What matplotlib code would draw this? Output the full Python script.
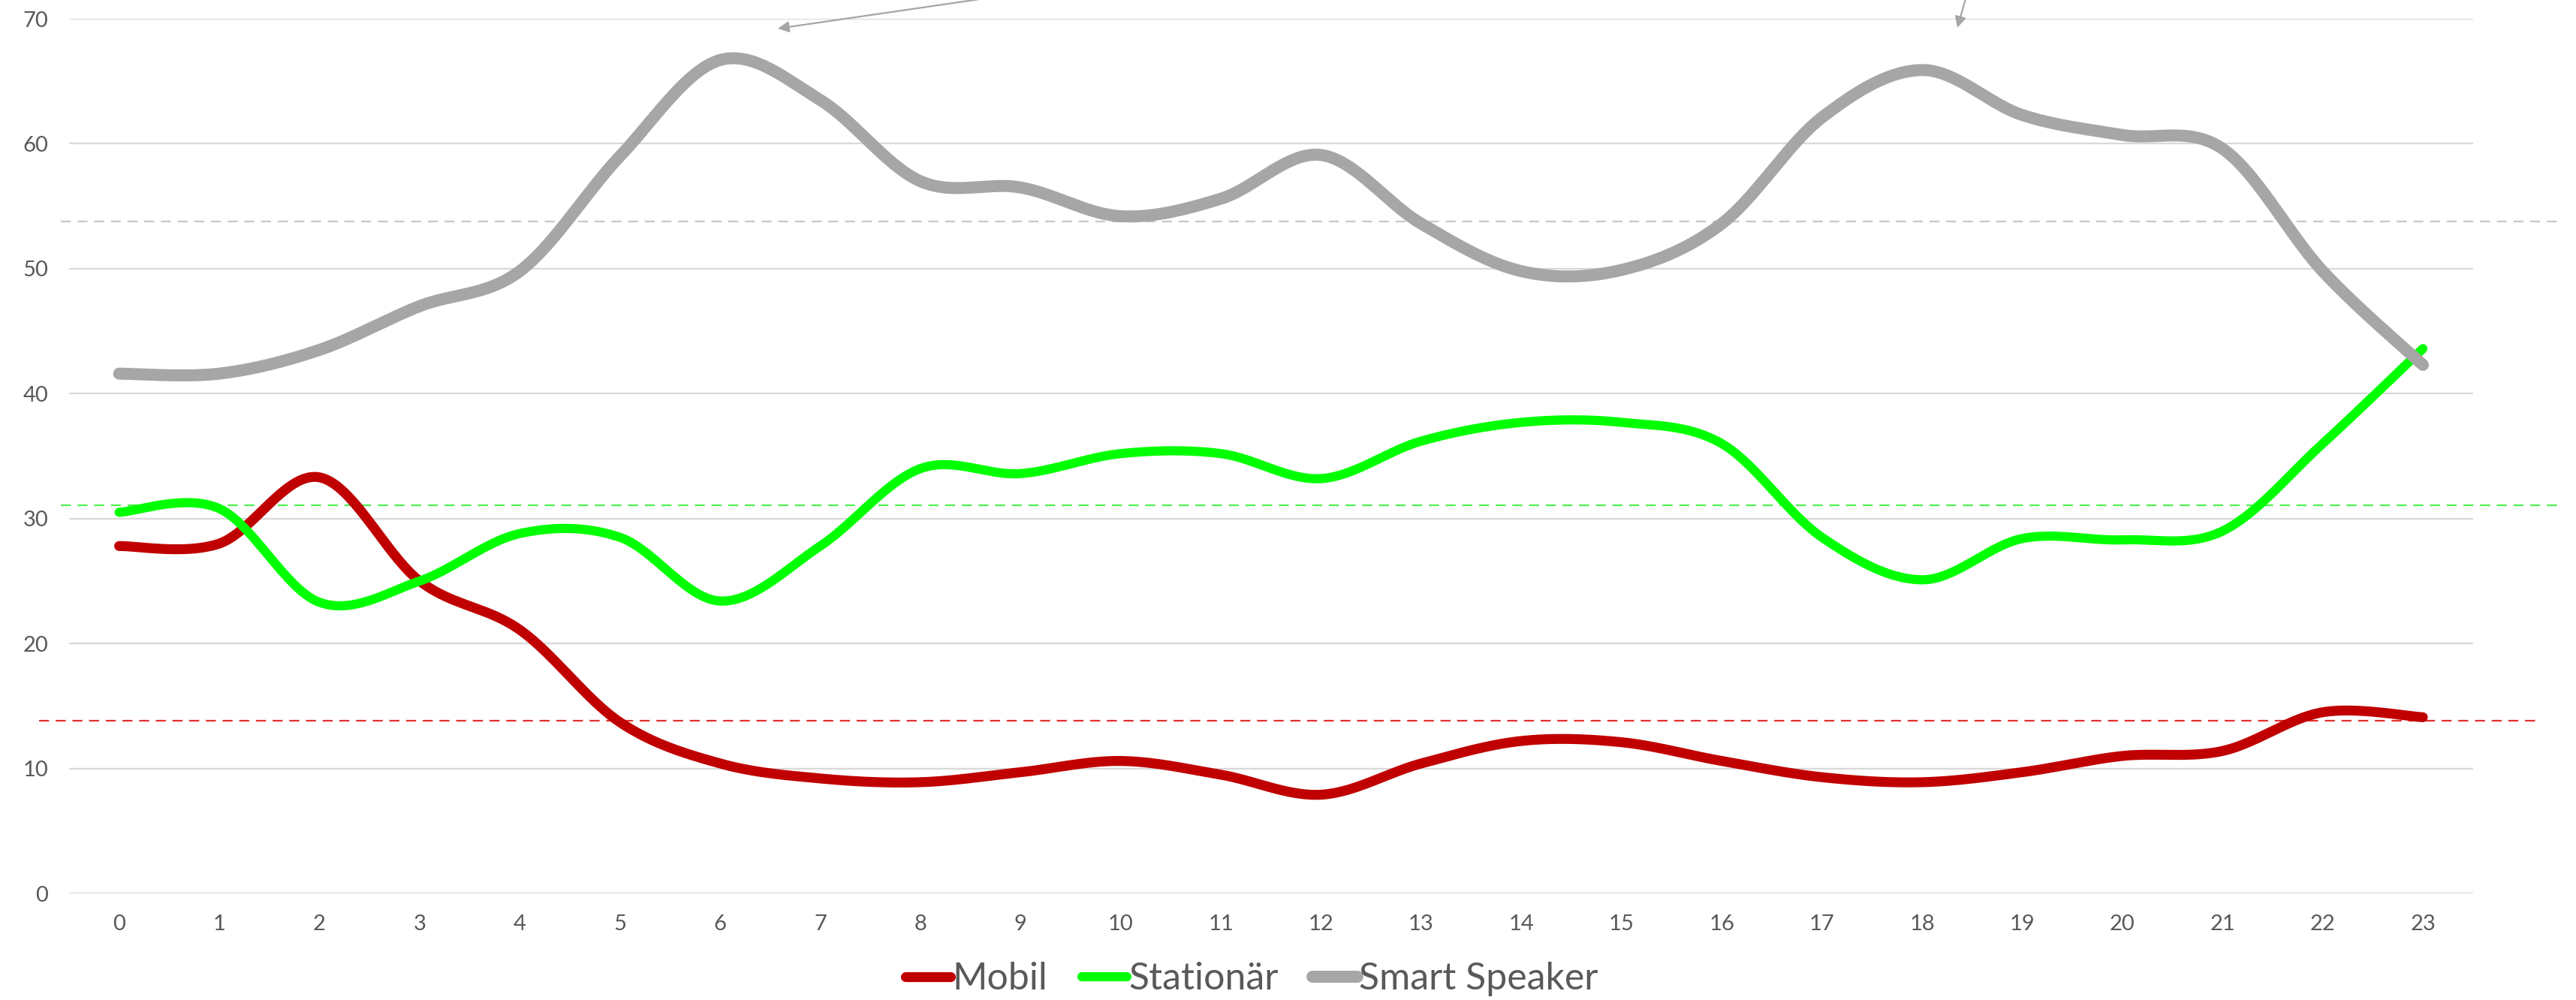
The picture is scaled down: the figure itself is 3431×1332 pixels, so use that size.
import numpy as np
import matplotlib.pyplot as plt

plt.rcParams['font.family'] = ['Lato', 'DejaVu Sans']

# stunden 0..23
hours = list(range(24))
mobil = [27.8, 28.0, 33.3, 25.0, 21.1, 13.7, 10.4, 9.2, 8.9, 9.7, 10.6, 9.5,
         7.9, 10.4, 12.2, 12.1, 10.6, 9.3, 8.9, 9.7, 11.0, 11.4, 14.5, 14.1]
stationaer = [30.5, 30.8, 23.3, 25.0, 28.8, 28.5, 23.4, 27.8, 34.0, 33.6, 35.2, 35.2,
              33.2, 36.2, 37.7, 37.7, 36.0, 28.5, 25.1, 28.4, 28.3, 29.0, 36.0, 43.6]
speaker = [41.6, 41.6, 43.5, 47.0, 49.8, 59.0, 66.7, 63.5, 57.0, 56.5, 54.2, 55.6,
           59.1, 53.6, 49.8, 49.9, 53.6, 62.1, 65.9, 62.3, 60.7, 59.6, 49.8, 42.3]

series_names = ['Mobil', 'Stationär', 'Smart Speaker']
series_colors = ['#C00000', '#00FF00', '#A6A6A6']
series_widths = [9.5, 8.8, 11.5]

# gestrichelte linien (durchschnitt)
avg_values = [13.85, 31.05, 53.8]
avg_colors = ['#E03030', '#50F050', '#C8C8C8']


def smooth(x, y, n=40):
    # excel-artige glättung (bezier / catmull-rom)
    x = np.asarray(x, float)
    y = np.asarray(y, float)
    px = np.concatenate([[x[0]], x, [x[-1]]])
    py = np.concatenate([[y[0]], y, [y[-1]]])
    t = np.linspace(0, 1, n)
    xs, ys = [], []
    for i in range(len(x) - 1):
        p0 = np.array([px[i], py[i]])
        p1 = np.array([px[i + 1], py[i + 1]])
        p2 = np.array([px[i + 2], py[i + 2]])
        p3 = np.array([px[i + 3], py[i + 3]])
        c1 = p1 + (p2 - p0) / 6
        c2 = p2 - (p3 - p1) / 6
        b = ((1 - t) ** 3)[:, None] * p1 + (3 * (1 - t) ** 2 * t)[:, None] * c1 \
            + (3 * (1 - t) * t ** 2)[:, None] * c2 + (t ** 3)[:, None] * p2
        xs.extend(b[:, 0])
        ys.extend(b[:, 1])
    return xs, ys


fig = plt.figure(figsize=(34.31, 13.32), dpi=100)
ax = fig.add_axes([0.0268, 0.1066, 0.9332, 0.8746])

for vals, name, col, lw in zip([mobil, stationaer, speaker], series_names,
                               series_colors, series_widths):
    sx, sy = smooth(hours, vals)
    ax.plot(sx, sy, color=col, lw=lw, label=name, solid_capstyle='round', zorder=3)

ax.set_xlim(-0.5, 23.5)
ax.set_ylim(0, 70)
ax.set_xticks(hours)
ax.set_yticks(range(0, 71, 10))
ax.grid(axis='y', color='#D9D9D9', lw=1.6, zorder=0)
ax.tick_params(length=0, labelsize=21, colors='#595959')
ax.tick_params(axis='y', pad=20)
ax.tick_params(axis='x', pad=20)
for s in ax.spines.values():
    s.set_visible(False)

# durchschnittslinien ragen über die achse hinaus
starts = [-0.0125, -0.0035, -0.0035]
ends = [1.026, 1.035, 1.035]
for v, c, x0, x1 in zip(avg_values, avg_colors, starts, ends):
    ax.plot([x0, x1], [v, v], transform=ax.get_yaxis_transform(), color=c,
            lw=1.6, ls=(0, (6, 4)), clip_on=False, zorder=2)

# pfeile von (abgeschnittenen) kommentaren
H = 1332
ax.annotate('', xy=(1036, H - 38), xytext=(1380, H + 12), xycoords='figure pixels',
            textcoords='figure pixels',
            arrowprops=dict(arrowstyle='-|>', color='#A6A6A6', lw=1.6,
                            mutation_scale=22, shrinkA=0, shrinkB=0))
ax.annotate('', xy=(2607, H - 37), xytext=(2621, H + 12), xycoords='figure pixels',
            textcoords='figure pixels',
            arrowprops=dict(arrowstyle='-|>', color='#A6A6A6', lw=1.6,
                            mutation_scale=22, shrinkA=0, shrinkB=0))

leg = fig.legend(loc='center', bbox_to_anchor=(0.486, 0.021), ncol=3, frameon=False,
                 fontsize=36, handlelength=1.2, handletextpad=0.05,
                 columnspacing=0.9)
for t in leg.get_texts():
    t.set_color('#595959')

fig.savefig('out.png', dpi=100)
